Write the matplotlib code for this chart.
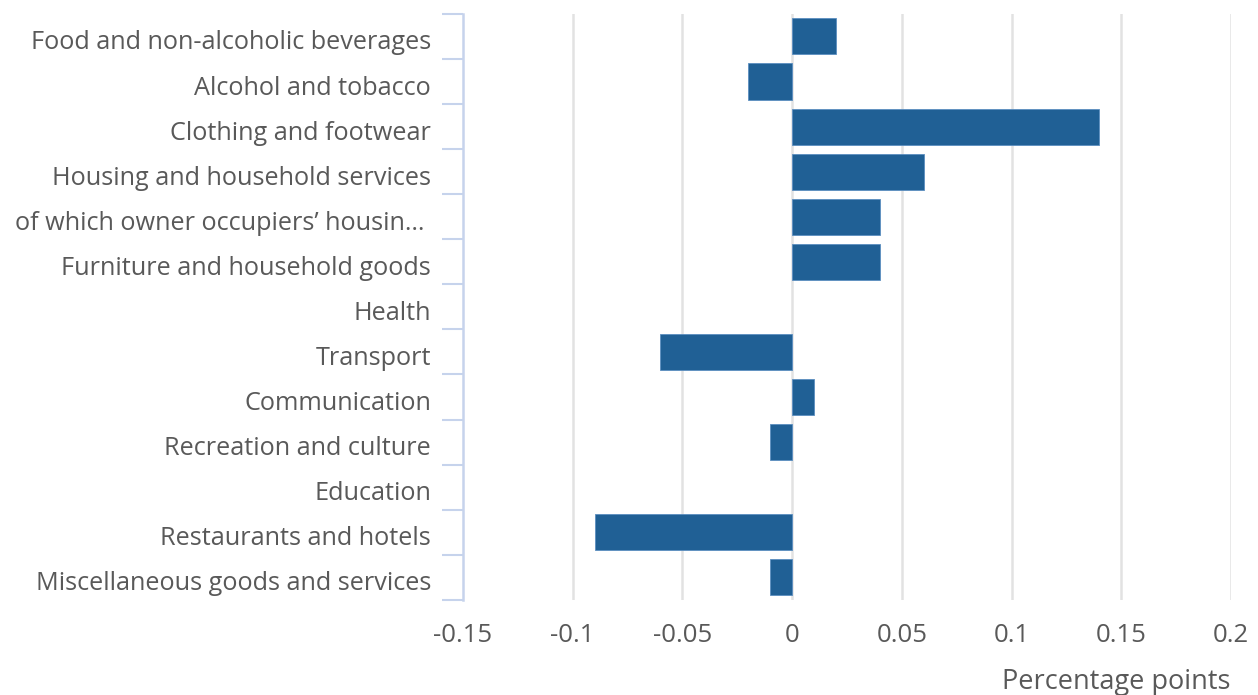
import matplotlib
matplotlib.use('Agg')
import matplotlib.pyplot as plt
from matplotlib.transforms import ScaledTranslation

plt.rcParams['font.family'] = ['Open Sans', 'DejaVu Sans']

categories = [
    'Food and non-alcoholic beverages',
    'Alcohol and tobacco',
    'Clothing and footwear',
    'Housing and household services',
    'of which owner occupiers\u2019 housin\u2026 ',
    'Furniture and household goods',
    'Health',
    'Transport',
    'Communication',
    'Recreation and culture',
    'Education',
    'Restaurants and hotels',
    'Miscellaneous goods and services',
]
values = [0.02, -0.02, 0.14, 0.06, 0.04, 0.04, 0.0, -0.06, 0.01, -0.01, 0.0, -0.09, -0.01]
xticks = [-0.15, -0.1, -0.05, 0, 0.05, 0.1, 0.15, 0.2]
xtick_labels = ['-0.15', '-0.1', '-0.05', '0', '0.05', '0.1', '0.15', '0.2']

text_col = '#595959'
bar_col = '#206095'

fig = plt.figure(figsize=(12.58, 6.95), dpi=100)
ax = fig.add_axes([0.368, 0.137, 0.6105, 0.843])

pos = list(range(len(categories)))
# no outline on empty bars, otherwise a hairline shows at zero
edge_w = [0.6 if v != 0 else 0 for v in values]
ax.barh(pos, values, height=0.8, color=bar_col, edgecolor='#5b8ec0', linewidth=edge_w, zorder=3)

ax.set_ylim(len(categories) - 0.5, -0.5)
ax.set_xlim(-0.15, 0.2)

# gridlines (skip the one sitting on the left spine)
for x in xticks[1:]:
    ax.axvline(x, color='#e2e2e2', lw=1.8, zorder=1)

ax.set_xticks(xticks)
ax.set_xticklabels(xtick_labels)
ax.tick_params(axis='x', length=0, pad=17, labelsize=18.5, labelcolor=text_col)

ax.set_yticks(pos)
ax.set_yticklabels(categories)
ax.tick_params(axis='y', length=0, pad=23, labelsize=18.2, labelcolor=text_col)
# nudge category labels down a few px, like the original
shift = ScaledTranslation(0, -3.5 / 100, fig.dpi_scale_trans)
for lab in ax.get_yticklabels():
    lab.set_transform(lab.get_transform() + shift)
# category boundary ticks
ax.set_yticks([p - 0.5 for p in pos] + [len(categories) - 0.5], minor=True)
ax.tick_params(axis='y', which='minor', length=15, width=1.5, color='#c6d3ec')

for s in ['top', 'right', 'bottom']:
    ax.spines[s].set_visible(False)
ax.spines['left'].set_color('#c6d3ec')
ax.spines['left'].set_linewidth(1.8)

ax.set_xlabel('Percentage points', fontsize=19.5, color=text_col, loc='right', labelpad=14)

fig.savefig('out.png', dpi=100)
